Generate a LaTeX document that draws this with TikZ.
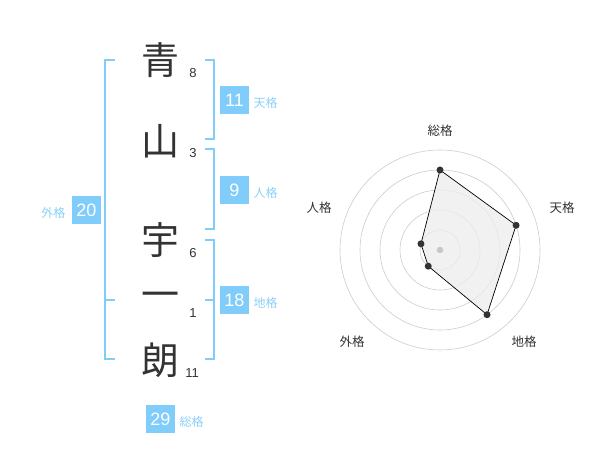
\documentclass[tikz,border=0pt]{standalone}
\usepackage{fontspec}
\setmainfont{Liberation Sans}
\newfontfamily\jp{Noto Sans CJK JP}
\definecolor{kakublue}{RGB}{128,204,250}
\definecolor{kakutext}{RGB}{140,208,248}
\definecolor{inkgray}{RGB}{51,51,51}

\begin{document}
\begin{tikzpicture}[x=1pt,y=-1pt,node distance=31pt,
    kanji/.style={font=\jp\fontsize{38}{38}\selectfont,text=inkgray},
    strokes/.style={font=\fontsize{13}{13}\selectfont,text=inkgray},
    kakubox/.style={fill=kakublue,text=white,minimum width=29pt,
                    minimum height=28pt,inner sep=0pt,font=\fontsize{18}{18}\selectfont},
    kakuname/.style={font=\jp\fontsize{12}{12}\selectfont,text=kakutext,yshift=-3pt},
    bracket/.style={draw=kakublue,line width=1.5pt},
    axis/.style={font=\jp\fontsize{12.5}{12.5}\selectfont,text=inkgray},
    ring/.style={draw=black!20,line width=0.6pt},
    dot/.style={circle,fill=inkgray,inner sep=0pt,minimum size=7pt}]

  \useasboundingbox (0,0) rectangle (600,470);

  % name
  \node[kanji] (c1) at (160,60)  {青};
  \node[kanji] (c2) at (160,141) {山};
  \node[kanji] (c3) at (160,240) {宇};
  \node[kanji] (c4) at (160,300) {一};
  \node[kanji] (c5) at (160,360) {朗};

  \node[strokes] (s1) at (193,73)  {8};
  \node[strokes] (s2) at (193,153) {3};
  \node[strokes] (s3) at (193,253) {6};
  \node[strokes] (s4) at (193,313) {1};
  \node[strokes] (s5) at (192,373) {11};

  % brackets
  \draw[bracket] (115,60) -- (105,60) -- (105,359) -- (115,359);
  \draw[bracket] (105,300) -- (115,300);
  \draw[bracket] (205,60) -- (214,60) -- (214,139) -- (205,139);
  \draw[bracket] (205,149) -- (214,149) -- (214,229) -- (205,229);
  \draw[bracket] (205,240) -- (214,240) -- (214,359) -- (205,359);
  \draw[bracket] (214,300) -- (205,300);

  \node[kakubox] (tenbox) at (234.5,100) {11};
  \node[kakubox] (jinbox) at (234.5,190) {9};
  \node[kakubox] (chibox) at (234.5,300) {18};
  \node[kakubox] (gaibox) at (86.5,210)  {20};
  \node[kakubox] (soubox) at (160.5,419) {29};

  \node[kakuname] (ten) [right of=tenbox] {天格};
  \node[kakuname] (jin) [right of=jinbox] {人格};
  \node[kakuname] (chi) [right of=chibox] {地格};
  \node[kakuname] (gai) [left of=gaibox,node distance=33pt] {外格};
  \node[kakuname] (sou) [right of=soubox] {総格};

  % radar
  \coordinate (O) at (440,250);
  \foreach \r in {20,40,...,100}
    \draw[ring] (O) circle (\r pt);

  \path (O) ++(-90:80) coordinate (rsou);
  \path (O) ++(-18:80) coordinate (rten);
  \path (O) ++(54:80)  coordinate (rchi);
  \path (O) ++(126:20) coordinate (rgai);
  \path (O) ++(198:20) coordinate (rjin);

  \draw[fill=black!7,fill opacity=0.8,line width=0.7pt]
    (rsou) -- (rten) -- (rchi) -- (rgai) -- (rjin) -- cycle;
  \fill[black!22] (O) circle (3.2pt);
  \foreach \p in {rsou,rten,rchi,rgai,rjin}
    \node[dot] (d\p) at (\p) {};

  \node[axis] (asou) at (440,131) {総格};
  \node[axis] (aten) at (562,208) {天格};
  \node[axis] (achi) at (524,342) {地格};
  \node[axis] (agai) at (352,342) {外格};
  \node[axis] (ajin) at (319,208) {人格};
\end{tikzpicture}
\end{document}
